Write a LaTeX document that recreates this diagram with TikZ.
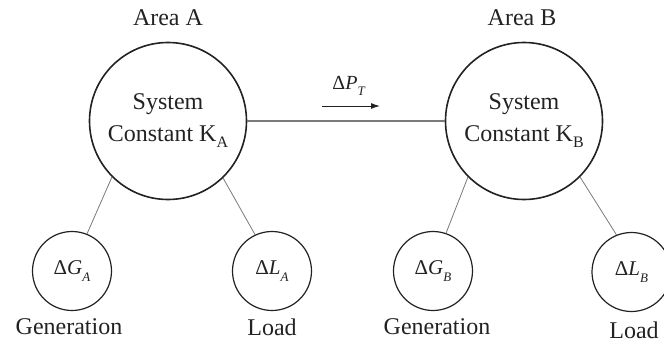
\documentclass[tikz,border=0pt]{standalone}
\usepackage{fontspec}
\setmainfont{Liberation Serif}
\usetikzlibrary{arrows.meta}
\definecolor{ink}{HTML}{222222}
\definecolor{wire}{HTML}{7A7A7A}
% increment symbol with italic variable and lowered italic index
\newcommand{\incr}[2]{Δ\textit{#1}\raisebox{-0.32em}{\fontsize{13}{13}\selectfont\textit{#2}}}
% area constant with lowered upright index
\newcommand{\konst}[1]{K\raisebox{-0.25em}{\fontsize{16}{16}\selectfont #1}}
\tikzset{
  areabox/.style={circle, draw=ink, line width=1.6pt, minimum size=157pt, inner sep=0pt,
    align=center, text=ink, font=\fontsize{24}{32}\selectfont},
  varbox/.style={circle, draw=ink, line width=1.2pt, minimum size=79pt, inner sep=0pt,
    text=ink, font=\fontsize{21}{24}\selectfont},
  caption/.style={text=ink, inner sep=0pt, font=\fontsize{24}{28}\selectfont},
  tie/.style={draw=wire, line width=0.8pt},
  link/.style={draw=wire, line width=1.1pt},
}
\begin{document}
\begin{tikzpicture}[x=1pt, y=-1pt]
  \useasboundingbox (0,0) rectangle (664,343);
  \clip (0,0) rectangle (664,343);

  % area A
  \node[caption] (titleA) at (168,18) {Area A};
  \node[areabox] (sysA) at (168,121) {System\\Constant \konst{A}};
  \node[varbox] (genA) at (72,271) {\incr{G}{A}};
  \node[varbox] (loadA) at (272,271) {\incr{L}{A}};
  \node[caption] (capGenA) at (69,327) {Generation};
  \node[caption] (capLoadA) at (272,327) {Load};

  % area B
  \node[caption] (titleB) at (522,18) {Area B};
  \node[areabox] (sysB) at (524,121) {System\\Constant \konst{B}};
  \node[varbox] (genB) at (433,271) {\incr{G}{B}};
  \node[varbox] (loadB) at (631.5,272) {\incr{L}{B}};
  \node[caption] (capGenB) at (437,327) {Generation};
  \node[caption] (capLoadB) at (634,330) {Load};

  % tie line and power flow arrow
  \path[link] (sysA.east) -- (sysB.west);
  \coordinate (flowS) at (322,106);
  \coordinate (flowE) at (380,106);
  \draw[ink, line width=1pt, -{Latex[length=9pt,width=6pt]}] (flowS) -- (flowE);
  \node[text=ink, inner sep=0pt, font=\fontsize{20}{24}\selectfont] (flowLbl) at (349,86) {\incr{P}{T}};

  % branches to generation and load
  \path[tie] (sysA.225) -- (genA.68);
  \path[tie] (sysA.314) -- (loadA.115);
  \path[tie] (sysB.225) -- (genB.71);
  \path[tie] (sysB.315) -- (loadB.112);
\end{tikzpicture}
\end{document}
